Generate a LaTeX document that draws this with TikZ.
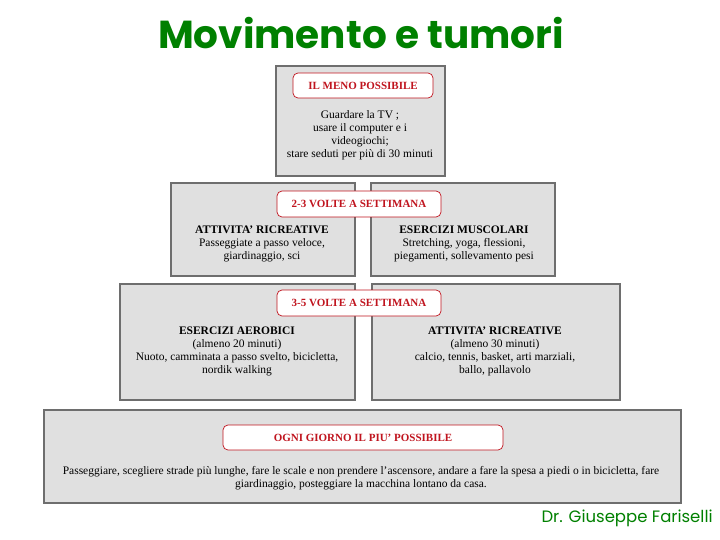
\documentclass[tikz,border=0pt]{standalone}
\usepackage{fontspec}
\setmainfont{Liberation Serif}
\newfontfamily\titlefont{Poppins}
\definecolor{boxgray}{RGB}{224,224,224}
\definecolor{boxedge}{RGB}{110,110,110}
\definecolor{labred}{RGB}{192,20,30}
\definecolor{titlegreen}{RGB}{0,128,0}
\begin{document}
\begin{tikzpicture}[x=1pt,y=-1pt,
  panel/.style={draw=boxedge,fill=boxgray,line width=1.1pt,inner sep=0pt},
  tag/.style={draw=labred,fill=white,rounded corners=5pt,line width=0.7pt,inner sep=0pt,
     text=labred,font=\bfseries\fontsize{11}{12}\selectfont},
  body/.style={align=center,font=\fontsize{11.5}{13}\selectfont,inner sep=0pt}]
\useasboundingbox (0,0) rectangle (720,540);
\node[font=\titlefont\bfseries\fontsize{39}{41}\selectfont,text=titlegreen] (title) at (361,33) {Movimento e tumori};
% top
\node[panel,minimum width=169,minimum height=110] (top) at (360.5,121) {};
\node[tag,minimum width=140,minimum height=25] (ltop) at (363,85.5) {IL MENO POSSIBILE};
\node[body] (ttop) at (360,135) {Guardare la TV ;\\usare il computer e i\\videogiochi;\\stare seduti per più di 30 minuti};
% row 2
\node[panel,minimum width=184,minimum height=93] (r2l) at (263,229.5) {};
\node[panel,minimum width=184,minimum height=93] (r2r) at (463,229.5) {};
\node[tag,minimum width=164,minimum height=26] (l2) at (359,204) {2-3 VOLTE A SETTIMANA};
\node[body] (t2l) at (262,244) {\textbf{ATTIVITA’ RICREATIVE}\\Passeggiate a passo veloce,\\giardinaggio, sci};
\node[body] (t2r) at (464,244) {\textbf{ESERCIZI MUSCOLARI}\\Stretching, yoga, flessioni,\\piegamenti, sollevamento pesi};
% row 3
\node[panel,minimum width=235,minimum height=116] (r3l) at (237.5,342) {};
\node[panel,minimum width=248,minimum height=116] (r3r) at (496,342) {};
\node[tag,minimum width=164,minimum height=26] (l3) at (359,303) {3-5 VOLTE A SETTIMANA};
\node[body] (t3l) at (237,351) {\textbf{ESERCIZI AEROBICI}\\(almeno 20 minuti)\\Nuoto, camminata a passo svelto, bicicletta,\\nordik walking};
\node[body] (t3r) at (495,351) {\textbf{ATTIVITA’ RICREATIVE}\\(almeno 30 minuti)\\calcio, tennis, basket, arti marziali,\\ballo, pallavolo};
% bottom
\node[panel,minimum width=637,minimum height=93] (bot) at (362.5,456.5) {};
\node[tag,minimum width=280,minimum height=25] (lb) at (363,437.5) {OGNI GIORNO IL PIU’ POSSIBILE};
\node[body] (tb) at (361,478.5) {Passeggiare, scegliere strade più lunghe, fare le scale e non prendere l’ascensore, andare a fare la spesa a piedi o in bicicletta, fare\\giardinaggio, posteggiare la macchina lontano da casa.};
\node[font=\titlefont\fontsize{16.5}{18}\selectfont,text=titlegreen,anchor=west] (foot) at (538,518) {Dr. Giuseppe Fariselli};
\end{tikzpicture}
\end{document}
